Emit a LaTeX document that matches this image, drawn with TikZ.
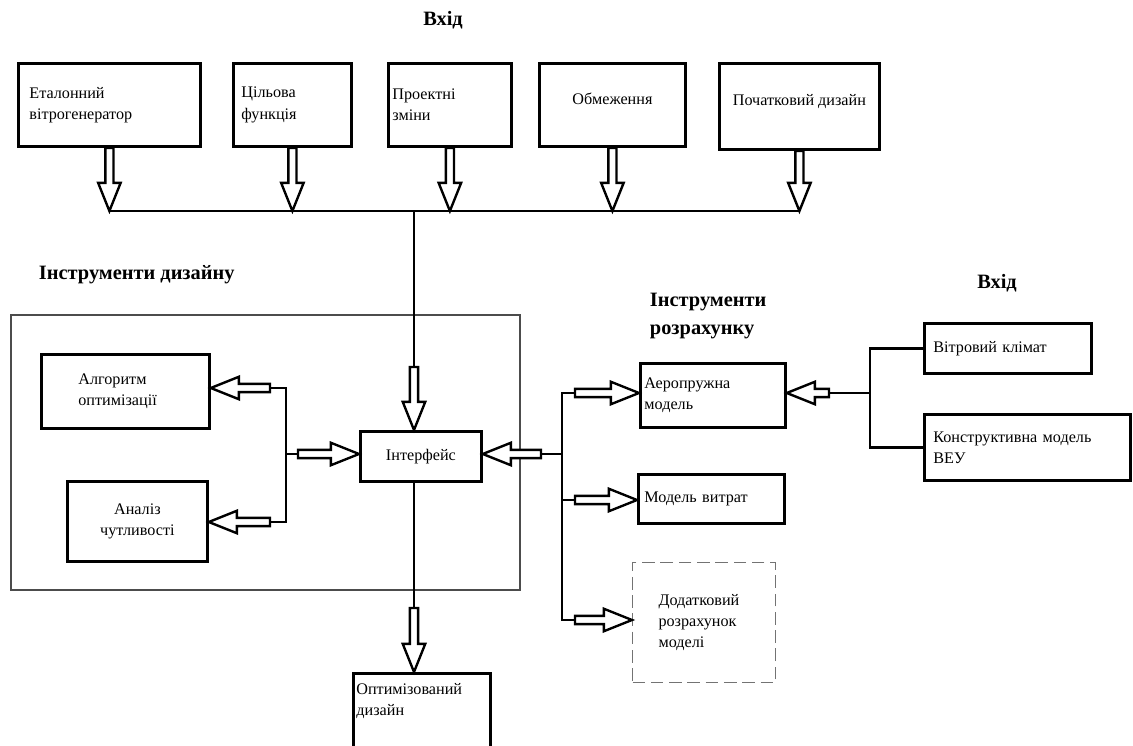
\documentclass[tikz,border=0pt]{standalone}
\usepackage{fontspec}
\setmainfont{Liberation Serif}
\usetikzlibrary{calc}

\newcommand\boxfont{\fontsize{11.5}{15}\selectfont}
\newcommand\titlefont{\fontsize{14.5}{20}\selectfont\bfseries}

\tikzset{
  box/.style={draw, line width=2pt, anchor=north west, inner ysep=0pt, align=left, font=\boxfont},
  extrabox/.style={box, draw=black!55, line width=0.8pt, dash pattern=on 9pt off 4pt},
  title/.style={font=\titlefont, align=left},
  frame/.style={draw=black!70, line width=1.4pt},
  line/.style={line width=1.8pt},
  harrow/.style={draw, line width=1.7pt, fill=white, line join=miter},
}

\newcommand\hollowarrow[2]{%
  \draw[harrow] let \p1=(#1), \p2=(#2), \n1={atan2(\y2-\y1,\x2-\x1)}, \n2={veclen(\x2-\x1,\y2-\y1)} in
    [shift={(\p1)}, rotate=\n1] (0pt,-2.9pt) -- ({\n2-20pt},-2.9pt) -- ({\n2-20pt},-8pt)
    -- ({\n2+0pt},0pt) -- ({\n2-20pt},8pt) -- ({\n2-20pt},2.9pt) -- (0pt,2.9pt) -- cycle;}

\begin{document}
\begin{tikzpicture}[x=0.25mm, y=-0.25mm]
    \useasboundingbox (0,0) rectangle (1133,746);
    \draw[frame] (11,315) rectangle (520,590);

    \node[title] (inTop) at (443,20) {Вхід};
    \node[title, anchor=west] (designTools) at (34,275) {Інструменти дизайну};
    \node[title, anchor=west] (calcTools) at (645,316) {Інструменти\\розрахунку};
    \node[title] (inRight) at (997,283) {Вхід};

    \node[box, minimum width=45.5mm, minimum height=20.75mm, text width=40mm, inner xsep=2.75mm] (etalon) at (17,62) {Еталонний\\вітрогенератор};
    \node[box, minimum width=29.5mm, minimum height=20.75mm, text width=25.5mm, inner xsep=2mm] (target) at (232,62) {Цільова\\функція};
    \node[box, minimum width=30.75mm, minimum height=20.75mm, text width=28.75mm, inner xsep=1mm] (vars) at (387,62) {Проектні\\зміни};
    \node[box, minimum width=36.5mm, minimum height=20.75mm, align=center, text depth=3mm] (limits) at (538,62) {Обмеження};
    \node[box, minimum width=40mm, minimum height=21.5mm, align=center, text depth=3mm] (initial) at (718,62) {Початковий дизайн};

    \node[box, minimum width=30.25mm, minimum height=12.5mm, align=center] (iface) at (359,430) {Інтерфейс};
    \node[box, minimum width=42mm, minimum height=18.5mm, text width=23.5mm, inner xsep=9.25mm] (algo) at (40,353) {Алгоритм\\оптимізації};
    \node[box, minimum width=35mm, minimum height=20mm, align=center] (sens) at (66,480) {Аналіз\\чутливості};

    \node[box, minimum width=36.25mm, minimum height=16mm, text width=34.25mm, inner xsep=1mm] (aero) at (639,362) {Аеропружна\\модель};
    \node[box, minimum width=36.5mm, minimum height=12.25mm, text width=33.5mm, inner xsep=1.5mm] (cost) at (637,473) {Модель витрат};
    \node[extrabox, minimum width=35.75mm, minimum height=30mm, text width=22.75mm, inner xsep=6.5mm] (extra) at (632,562) {Додатковий\\розрахунок\\моделі};

    \node[box, minimum width=41.75mm, minimum height=12.5mm, text width=37.25mm, inner xsep=2.25mm] (wind) at (923,322) {Вітровий клімат};
    \node[box, minimum width=51.5mm, minimum height=16.5mm, text width=47mm, inner xsep=2.25mm] (turbine) at (923,413) {Конструктивна модель\\ВЕУ};

    \node[box, minimum width=34.25mm, text width=32.75mm, inner xsep=0.75mm, inner ysep=2.5mm] (optim) at (352,672) {Оптимізований\\дизайн\\~\\~};

    \coordinate (bus) at (414,211);
    \coordinate (tin) at (414,367);
    \coordinate (la) at (270,388);
    \coordinate (lb) at (270,522);
    \coordinate (lm) at (286,454);
    \coordinate (lmo) at (298,454);
    \coordinate (rm) at (562,454);
    \coordinate (rmo) at (541,454);
    \coordinate (ra) at (575,393);
    \coordinate (rc) at (575,500);
    \coordinate (rd) at (575,620);
    \coordinate (ia) at (870,393);
    \coordinate (iao) at (829,393);
    \coordinate (bo) at (414,608);

    \draw[line] (etalon.south |- bus) -- (initial.south |- bus);
    \foreach \b in {etalon,target,vars,limits,initial}
      \hollowarrow{\b.south}{\b.south |- bus};
    \draw[line] (bus) -- (tin);
    \hollowarrow{tin}{tin |- iface.north};

    \draw[line] (la) -| (lm) |- (lb);
    \draw[line] (lm) -- (lmo);
    \hollowarrow{la}{la -| algo.east};
    \hollowarrow{lb}{lb -| sens.east};
    \hollowarrow{lmo}{lmo -| iface.west};

    \draw[line] (ra) -| (rm) |- (rd);
    \draw[line] (rc -| rm) -- (rc);
    \draw[line] (rm) -- (rmo);
    \hollowarrow{rmo}{rmo -| iface.east};
    \hollowarrow{ra}{ra -| aero.west};
    \hollowarrow{rc}{rc -| cost.west};
    \hollowarrow{rd}{rd -| extra.west};

    \draw[line] (wind.west) -| (ia) |- (turbine.west);
    \draw[line] (ia) -- (iao);
    \hollowarrow{iao}{iao -| aero.east};

    \draw[line] (iface.south -| bo) -- (bo);
    \hollowarrow{bo}{bo |- optim.north};
\end{tikzpicture}
\end{document}
